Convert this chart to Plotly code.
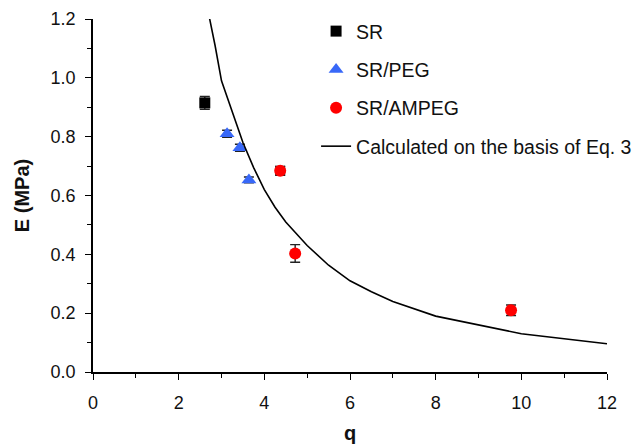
import plotly.graph_objects as go

# Data
sr_q = [2.61]
sr_E = [0.915]
sr_err = [0.022]

peg_q = [3.13, 3.43, 3.64]
peg_E = [0.810, 0.762, 0.653]
peg_err = [0.012, 0.012, 0.010]

ampeg_q = [4.37, 4.72, 9.76]
ampeg_E = [0.684, 0.403, 0.210]
ampeg_err = [0.015, 0.030, 0.018]
ampeg_qerr = [0.10, 0.0, 0.0]

calc_q = [2.71, 2.85, 3.0, 3.25, 3.5, 3.75, 4.0, 4.25, 4.5, 5.0, 5.5, 6.0, 6.5, 7.0, 7.5, 8.0, 10.0, 12.0]
calc_E = [1.21, 1.11, 0.99, 0.885, 0.78, 0.695, 0.62, 0.56, 0.51, 0.43, 0.363, 0.31, 0.273, 0.24, 0.214, 0.19, 0.13, 0.096]

FONT = "Arial, 'Liberation Sans', sans-serif"
err_style = dict(type="data", visible=True, color="#222222", thickness=1.4, width=5)

fig = go.Figure()
fig.add_trace(go.Scatter(
    x=sr_q, y=sr_E, mode="markers", name="SR", legendgroup="a",
    marker=dict(symbol="square", size=11, color="black"),
    error_y=dict(array=sr_err, **err_style), cliponaxis=False))
fig.add_trace(go.Scatter(
    x=peg_q, y=peg_E, mode="markers", name="SR/PEG", legendgroup="b",
    marker=dict(symbol="triangle-up", size=13, color="#3868F8"),
    error_y=dict(array=peg_err, **err_style), cliponaxis=False))
fig.add_trace(go.Scatter(
    x=ampeg_q, y=ampeg_E, mode="markers", name="SR/AMPEG", legendgroup="c",
    marker=dict(symbol="circle", size=12, color="#FF0000"),
    error_y=dict(array=ampeg_err, **err_style),
    error_x=dict(array=ampeg_qerr, **err_style), cliponaxis=False))
fig.add_trace(go.Scatter(
    x=calc_q, y=calc_E, mode="lines", name="Calculated on the basis of Eq. 3",
    legendgroup="d", line=dict(color="black", width=1.6)))

axis_common = dict(
    showline=True, linecolor="black", linewidth=1.5, showgrid=False, zeroline=False,
    ticks="outside", ticklen=6, tickwidth=1.3, tickcolor="black",
    tickfont=dict(family=FONT, size=18, color="#111111"),
    mirror=False,
)

fig.update_xaxes(
    range=[0, 12], dtick=2, tick0=0, ticklabelstandoff=8,
    minor=dict(ticks="outside", dtick=1, ticklen=4, tickwidth=1.2, tickcolor="black"),
    title=dict(text="<b>q</b>", font=dict(family=FONT, size=20, color="#111111"), standoff=14),
    **axis_common)
fig.update_yaxes(
    range=[0, 1.2], dtick=0.2, tick0=0, tickformat=".1f", ticklabelstandoff=6,
    minor=dict(ticks="outside", dtick=0.1, ticklen=4, tickwidth=1.2, tickcolor="black"),
    title=dict(text="<b>E (MPa)</b>", font=dict(family=FONT, size=20, color="#111111"), standoff=16),
    **axis_common)

fig.update_layout(
    width=642, height=448,
    margin=dict(l=93, r=35, t=19, b=76, autoexpand=False),
    paper_bgcolor="white", plot_bgcolor="white",
    font=dict(family=FONT, size=19, color="#111111"),
    showlegend=True,
    legend=dict(
        x=0.434, y=1.02, xanchor="left", yanchor="top",
        bgcolor="rgba(0,0,0,0)", borderwidth=0,
        font=dict(family=FONT, size=19.5, color="#111111"),
        tracegroupgap=10,
    ),
)

fig.write_html("out.html")
